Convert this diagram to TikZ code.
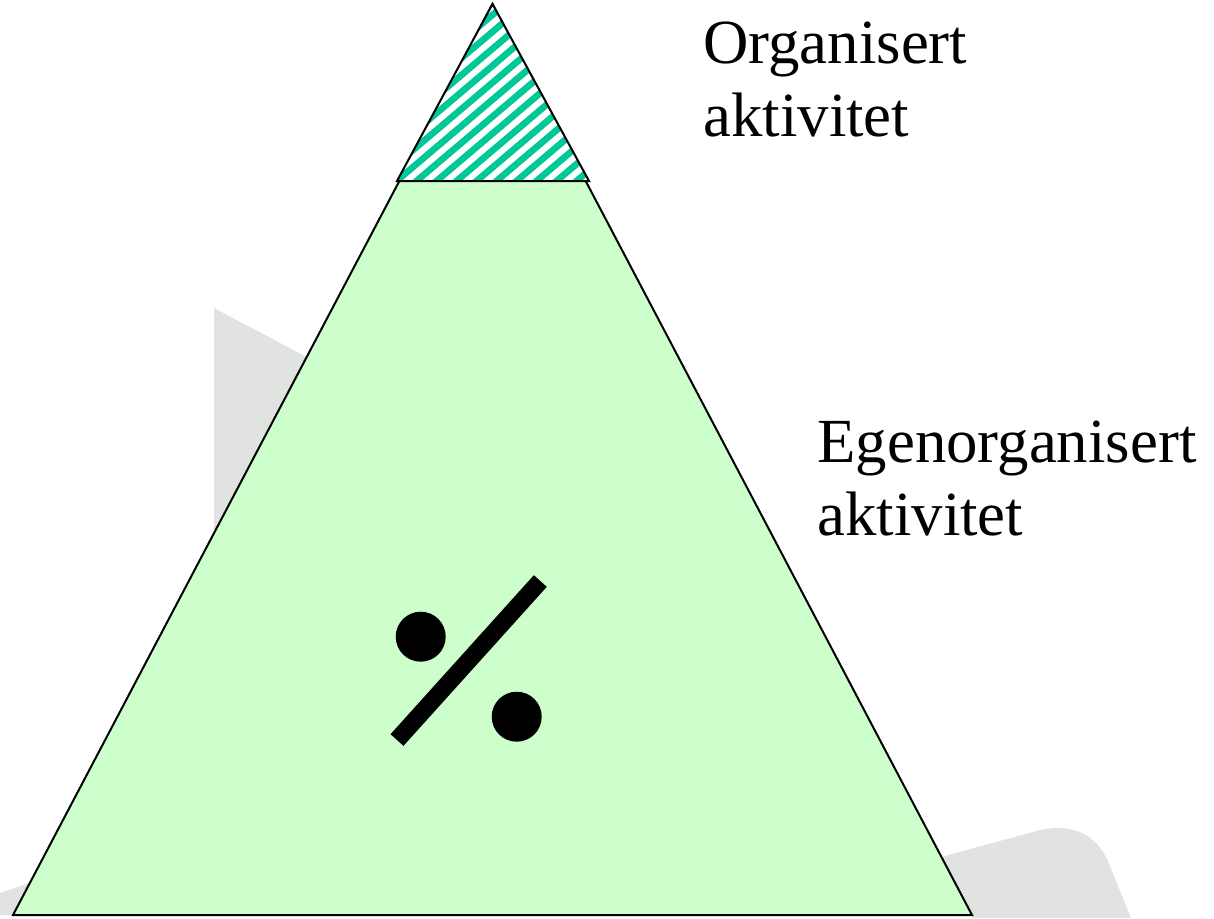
\documentclass[tikz,border=0pt]{standalone}
\usepackage{fontspec}
\setmainfont{Liberation Serif}
\usetikzlibrary{positioning}
\definecolor{pyrgreen}{RGB}{204,255,204}
\definecolor{hatchteal}{RGB}{0,200,150}
\definecolor{wmgray}{RGB}{225,227,225}

\begin{document}
\begin{tikzpicture}[x=0.5pt,y=-0.5pt,
  lbl/.style={anchor=base west,inner sep=0pt,align=left,font=\fontsize{31.4}{36.5}\selectfont},
  edge/.style={draw=black,line width=1pt}]
\useasboundingbox (0,0) rectangle (1214,918);
% faint shapes behind the pyramid
\fill[wmgray] (214,308) -- (520,470) -- (300,560) -- (214,532) -- cycle;
\fill[wmgray] (0,893) -- (120,852) -- (120,915) -- (0,915) -- cycle;
\fill[wmgray] (930,860) -- (1040,830) .. controls (1080,822) and (1100,840) .. (1110,866) -- (1131,918) -- (972,918) -- (972,915) -- (930,915) -- cycle;
% pyramid
\coordinate (top) at (492.5,4);
\coordinate (bl) at (13,915);
\coordinate (br) at (972,915);
\coordinate (cl) at (397,181);
\coordinate (cr) at (589,181);
\filldraw[fill=pyrgreen,edge] (top) -- (br) -- (bl) -- cycle;
\fill[white] (top) -- (cr) -- (cl) -- cycle;
\begin{scope}
  \clip (top) -- (cr) -- (cl) -- cycle;
  \foreach \c in {390,410,...,830}
    \draw[hatchteal,line width=3.3pt] (\c-230,195) -- (\c,0);
\end{scope}
\draw[edge] (top) -- (cr) -- (cl) -- cycle;
% percent sign
\fill (420.7,636.7) circle[radius=25];
\fill (516.7,716.7) circle[radius=25];
\draw[line width=8.7pt] (397,740) -- (540.3,581);
% labels
\node[lbl] (org) at (703,136) {Organisert\\aktivitet};
\node[lbl] (egen) at (817,535) {Egenorganisert\\aktivitet};
\end{tikzpicture}
\end{document}
